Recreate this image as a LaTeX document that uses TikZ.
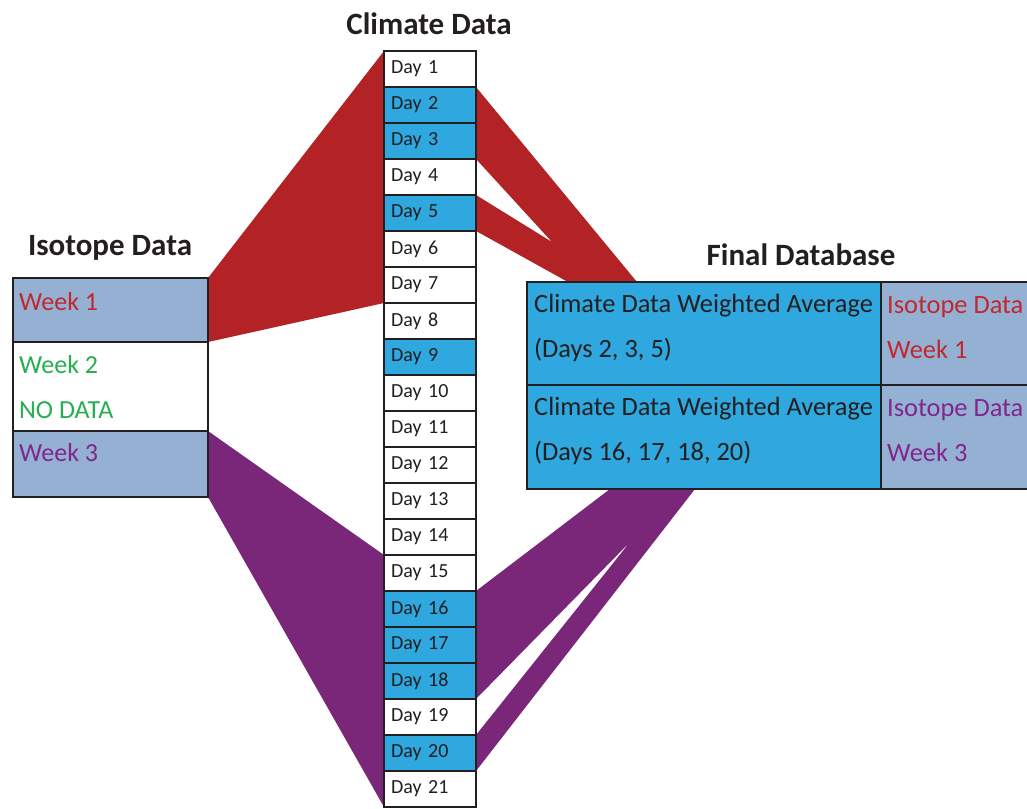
\documentclass[tikz,border=0pt]{standalone}
\usepackage{fontspec}
\setmainfont{Carlito}
\usetikzlibrary{calc,backgrounds}
\definecolor{cyanfill}{RGB}{46,168,223}
\definecolor{isofill}{RGB}{148,177,211}
\definecolor{redband}{RGB}{179,34,37}
\definecolor{purpleband}{RGB}{123,39,121}
\definecolor{redtxt}{RGB}{193,39,45}
\definecolor{greentxt}{RGB}{36,176,80}
\definecolor{purpletxt}{RGB}{128,38,140}
\definecolor{border}{RGB}{35,31,32}
\definecolor{darktxt}{RGB}{35,31,32}
\tikzset{
  cell/.style={draw=border, line width=2.8pt, inner sep=0pt, outer sep=0pt},
  daybox/.style={cell, minimum width=92pt, minimum height=36pt, text width=78pt, align=left,
    font=\fontsize{20}{20}\selectfont, text=darktxt},
  isobox/.style={cell, fill=isofill, minimum width=195pt},
  wk/.style={inner sep=0pt, anchor=west, align=left, font=\fontsize{26}{45}\selectfont},
  fdbtxt/.style={inner sep=0pt, anchor=west, align=left, font=\fontsize{26.4}{45}\selectfont},
  title/.style={inner sep=0pt, font=\bfseries\fontsize{31}{31}\selectfont, text=darktxt},
}
\begin{document}
\begin{tikzpicture}[x=1pt,y=-1pt]
\clip (0,0) rectangle (1027,808);
% climate data column
\foreach \i/\f in {1/white,2/cyanfill,3/cyanfill,4/white,5/cyanfill,6/white,7/white,8/white,9/cyanfill,10/white,11/white,12/white,13/white,14/white,15/white,16/cyanfill,17/cyanfill,18/cyanfill,19/white,20/cyanfill,21/white}{
  \node[daybox, fill=\f] (d\i) at (430, {69+36*(\i-1)}) {Day \i};
}
% isotope data
\node[isobox, minimum height=64pt] (w1) at (110.5,310) {};
\node[isobox, fill=white, minimum height=89pt] (w2) at (110.5,386.5) {};
\node[isobox, minimum height=66pt] (w3) at (110.5,464) {};
\node[wk, text=redtxt] (w1t) at (19,302) {Week 1};
\node[wk, text=greentxt] (w2t) at (19,387.5) {Week 2\\NO DATA};
\node[wk, text=purpletxt] (w3t) at (19,453) {Week 3};
% final database
\node[cell, fill=cyanfill, minimum width=354pt, minimum height=103pt] (c1) at (704,333.5) {};
\node[cell, fill=isofill, minimum width=159pt, minimum height=103pt] (i1) at (960.5,333.5) {};
\node[cell, fill=cyanfill, minimum width=354pt, minimum height=104pt] (c2) at (704,437) {};
\node[cell, fill=isofill, minimum width=159pt, minimum height=104pt] (i2) at (960.5,437) {};
\node[fdbtxt, text=darktxt] (c1t) at (534,327.5) {Climate Data Weighted Average\\(Days 2, 3, 5)};
\node[fdbtxt, text=darktxt] (c2t) at (534,431) {Climate Data Weighted Average\\(Days 16, 17, 18, 20)};
\node[fdbtxt, text=redtxt] (i1t) at (887,327.5) {Isotope Data\\Week 1};
\node[fdbtxt, text=purpletxt] (i2t) at (887,431) {Isotope Data\\Week 3};
% titles
\node[title] (tc) at (429,24) {Climate Data};
\node[title] (ti) at (110,248) {Isotope Data};
\node[title] (tf) at (801,255) {Final Database};
% bands
\coordinate (ra) at (552,242);
\coordinate (pa) at (630,542);
\begin{pgfonlayer}{background}
\fill[white] (0,0) rectangle (1027,808);
\fill[redband] (w1.north east) -- (d1.north west) -- (d7.south west) -- (w1.south east) -- cycle;
\fill[redband] (d2.north east) -- ($(c1.north west)+(110,0)$) -- ($(c1.north west)+(41,0)$)
  -- (d5.south east) -- (d5.north east) -- (ra) -- (d3.south east) -- cycle;
\fill[purpleband] (w3.north east) -- (d15.north west) -- (d21.south west) -- (w3.south east) -- cycle;
\fill[purpleband] (d16.north east) -- ($(c2.south west)+(83,0)$) -- ($(c2.south west)+(168,0)$)
  -- (d20.south east) -- (d20.north east) -- (pa) -- (d18.south east) -- cycle;
\end{pgfonlayer}
\end{tikzpicture}
\end{document}
